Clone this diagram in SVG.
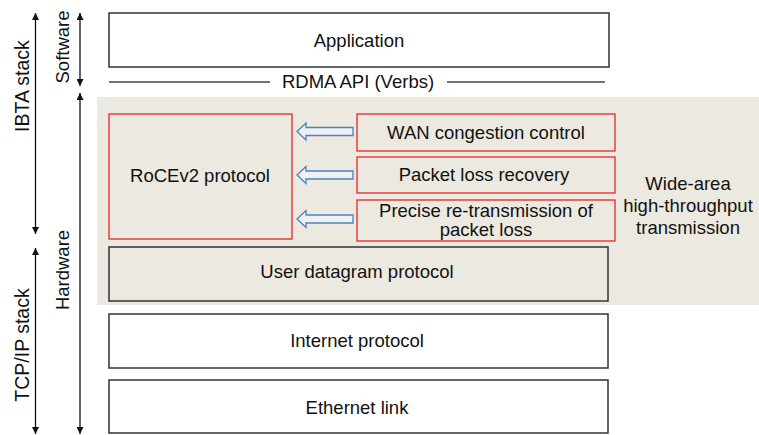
<svg xmlns="http://www.w3.org/2000/svg" width="759" height="435" viewBox="0 0 759 435">
<defs>
<style>
text{font-family:"Liberation Sans",Arial,sans-serif;fill:#111;text-anchor:middle;dominant-baseline:central}
.t16{font-size:18.5px}
.t17{font-size:18.5px}
.t19{font-size:19.5px}
.box{fill:#fff;stroke:#333;stroke-width:1.5}
.bbox{fill:#ece9e0;stroke:#333;stroke-width:1.5}
.red{fill:#ece9e0;stroke:#e8262a;stroke-width:1.3}
.ln{stroke:#111;stroke-width:1.3;fill:none}
.harrow{fill:#eef0f2;stroke:#4f81bd;stroke-width:1.3}
</style>
<marker id="ah" viewBox="0 0 10 10" refX="10" refY="5" markerWidth="7" markerHeight="7" markerUnits="userSpaceOnUse" orient="auto-start-reverse">
<path d="M0,0 L10,5 L0,10 z" fill="#111"/>
</marker>
</defs>
<rect x="97" y="97" width="662" height="208" fill="#ece9e0"/>
<g id="labels-left">
<text class="t19" transform="translate(22,86) rotate(-90)">IBTA stack</text>
<text class="t19" transform="translate(22,345) rotate(-90)">TCP/IP stack</text>
<text class="t17" transform="translate(62,47) rotate(-90)">Software</text>
<text class="t17" transform="translate(62,270) rotate(-90)">Hardware</text>
</g>
<g id="connectors">
<line class="ln" x1="35.5" y1="13" x2="35.5" y2="234" marker-start="url(#ah)" marker-end="url(#ah)"/>
<line class="ln" x1="35.5" y1="248" x2="35.5" y2="434" marker-start="url(#ah)" marker-end="url(#ah)"/>
<line class="ln" x1="80" y1="13" x2="80" y2="86" marker-start="url(#ah)" marker-end="url(#ah)"/>
<line class="ln" x1="80" y1="93" x2="80" y2="434" marker-start="url(#ah)" marker-end="url(#ah)"/>
<path class="harrow" d="M353,127.5 L306,127.5 L306,123 L297,131.5 L306,140 L306,135.5 L353,135.5 z"/>
<path class="harrow" d="M353,171 L306,171 L306,166.5 L297,175 L306,183.5 L306,179 L353,179 z"/>
<path class="harrow" d="M353,215 L306,215 L306,210.5 L297,219 L306,227.5 L306,223 L353,223 z"/>
</g>
<g id="application">
<rect class="box" x="109" y="13" width="500" height="54"/>
<text class="t16" x="359" y="40">Application</text>
</g>
<g id="rdma-api">
<line x1="109" y1="82" x2="270" y2="82" stroke="#444" stroke-width="1.3"/>
<line x1="447" y1="82" x2="605" y2="82" stroke="#444" stroke-width="1.3"/>
<text class="t16" x="358" y="81">RDMA API (Verbs)</text>
</g>
<g id="rocev2">
<rect class="red" x="109" y="114" width="183" height="125"/>
<text class="t16" x="200" y="175">RoCEv2 protocol</text>
</g>
<g id="wan">
<rect class="red" x="357" y="114" width="258" height="37"/>
<text class="t16" x="486" y="132">WAN congestion control</text>
</g>
<g id="plr">
<rect class="red" x="357" y="157" width="258" height="36"/>
<text class="t16" x="484" y="174">Packet loss recovery</text>
</g>
<g id="precise">
<rect class="red" x="357" y="200" width="258" height="41"/>
<text class="t16" x="486" y="210.5">Precise re-transmission of</text>
<text class="t16" x="486" y="229.5">packet loss</text>
</g>
<g id="wide-area">
<text class="t16" x="688" y="183">Wide-area</text>
<text class="t16" x="688" y="205">high-throughput</text>
<text class="t16" x="688" y="227">transmission</text>
</g>
<g id="udp">
<rect class="bbox" x="109" y="247" width="499" height="54"/>
<text class="t16" x="357" y="271">User datagram protocol</text>
</g>
<g id="ip">
<rect class="box" x="109" y="314" width="499" height="54"/>
<text class="t16" x="357" y="340">Internet protocol</text>
</g>
<g id="ethernet">
<rect class="box" x="109" y="380" width="499" height="53"/>
<text class="t16" x="357" y="407">Ethernet link</text>
</g>
</svg>
